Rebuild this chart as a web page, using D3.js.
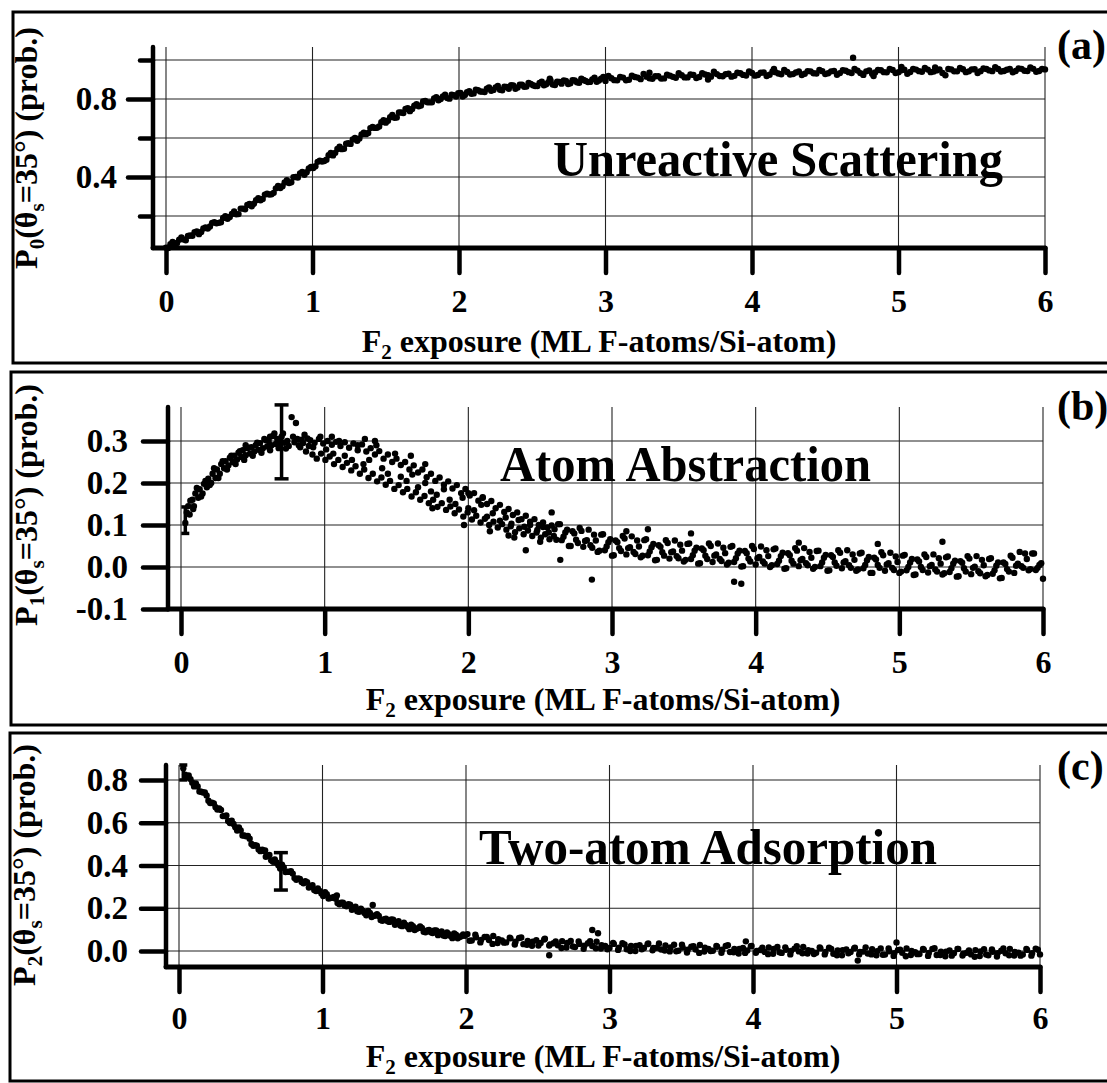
<!DOCTYPE html>
<html><head><meta charset="utf-8">
<script src="https://cdn.jsdelivr.net/npm/d3@7"></script>
<style>body{margin:0;background:#fff}svg{display:block}</style>
</head><body>
<svg id="chart" width="1107" height="1083"></svg>
<script>
// ---------------- DATA ----------------
const xTicks = [0, 1, 2, 3, 4, 5, 6];
const yGridA = [0.2, 0.4, 0.6, 0.8, 1.0];
const yMajorA = [0.4, 0.8];
const yMinorA = [0.2, 0.6, 1.0];
const yGridB = [0.0, 0.1, 0.2, 0.3];
const yMajorB = [-0.1, 0.0, 0.1, 0.2, 0.3];
const yGridC = [0.0, 0.2, 0.4, 0.6, 0.8];
const yMajorC = [0.0, 0.2, 0.4, 0.6, 0.8];
const panelTags = ["(a)", "(b)", "(c)"];
const panelNotes = ["Unreactive Scattering", "Atom Abstraction", "Two-atom Adsorption"];
const ySubs = ["0", "1", "2"];

// P0 : unreactive scattering  [exposure, probability]
const p0Points = [
[0.00,0.038],[0.03,0.055],[0.06,0.058],[0.09,0.078],[0.12,0.080],[0.15,0.098],[0.18,0.099],[0.21,0.121],[0.24,0.118],[0.27,0.142],
[0.30,0.146],[0.33,0.168],[0.36,0.165],[0.39,0.190],[0.42,0.186],[0.45,0.211],[0.48,0.209],[0.51,0.238],[0.54,0.235],[0.57,0.262],
[0.60,0.263],[0.63,0.291],[0.66,0.287],[0.69,0.314],[0.72,0.312],[0.75,0.342],[0.78,0.344],[0.81,0.372],[0.84,0.369],[0.87,0.399],
[0.90,0.398],[0.93,0.426],[0.96,0.425],[0.99,0.452],[1.02,0.455],[1.05,0.484],[1.08,0.482],[1.11,0.512],[1.14,0.511],[1.17,0.544],
[1.20,0.543],[1.23,0.571],[1.26,0.570],[1.29,0.601],[1.32,0.598],[1.35,0.627],[1.38,0.626],[1.41,0.657],[1.44,0.653],[1.47,0.681],
[1.50,0.679],[1.53,0.707],[1.56,0.704],[1.59,0.731],[1.62,0.728],[1.65,0.753],[1.68,0.749],[1.71,0.773],[1.74,0.767],[1.77,0.790],
[1.80,0.783],[1.83,0.803],[1.86,0.794],[1.89,0.813],[1.92,0.805],[1.95,0.822],[1.98,0.813],[2.01,0.831],[2.04,0.821],[2.07,0.840],
[2.10,0.829],[2.13,0.846],[2.16,0.838],[2.19,0.853],[2.22,0.842],[2.25,0.860],[2.28,0.848],[2.31,0.864],[2.34,0.853],[2.37,0.870],
[2.40,0.859],[2.43,0.874],[2.46,0.864],[2.49,0.878],[2.52,0.867],[2.55,0.882],[2.58,0.871],[2.61,0.886],[2.64,0.875],[2.67,0.889],
[2.70,0.879],[2.73,0.893],[2.76,0.881],[2.79,0.895],[2.82,0.884],[2.85,0.898],[2.88,0.887],[2.91,0.901],[2.94,0.889],[2.97,0.904],
[3.00,0.893],[3.04,0.907],[3.08,0.896],[3.12,0.910],[3.16,0.899],[3.20,0.913],[3.24,0.902],[3.28,0.915],[3.32,0.904],[3.36,0.917],
[3.40,0.906],[3.44,0.920],[3.48,0.909],[3.52,0.922],[3.56,0.911],[3.60,0.924],[3.64,0.913],[3.68,0.926],[3.72,0.915],[3.76,0.928],
[3.80,0.917],[3.84,0.930],[3.88,0.919],[3.92,0.932],[3.96,0.921],[4.00,0.934],[4.04,0.923],[4.08,0.936],[4.12,0.925],[4.16,0.938],
[4.20,0.927],[4.24,0.939],[4.28,0.928],[4.32,0.941],[4.36,0.930],[4.40,0.942],[4.44,0.931],[4.48,0.943],[4.52,0.932],[4.56,0.944],
[4.60,0.933],[4.64,0.945],[4.68,0.934],[4.72,0.946],[4.76,0.924],[4.80,0.947],[4.84,0.936],[4.88,0.948],[4.92,0.937],[4.96,0.949],
[5.00,0.938],[5.04,0.950],[5.08,0.939],[5.12,0.951],[5.16,0.940],[5.20,0.951],[5.24,0.941],[5.28,0.952],[5.32,0.922],[5.36,0.952],
[5.40,0.942],[5.44,0.953],[5.48,0.942],[5.52,0.953],[5.56,0.943],[5.60,0.954],[5.64,0.943],[5.68,0.954],[5.72,0.944],[5.76,0.954],
[5.80,0.944],[5.84,0.955],[5.88,0.944],[5.92,0.955],[5.96,0.944],[6.00,0.952],
[4.69,1.012],[3.30,0.935],[4.15,0.955],[5.25,0.962],[4.83,0.918],[3.70,0.900],[2.62,0.905],[5.02,0.965]
];
const p0PointsB = [
[0.015,0.036],[0.045,0.067],[0.075,0.062],[0.105,0.090],[0.135,0.076],[0.165,0.100],[0.195,0.117],[0.225,0.107],[0.255,0.136],[0.285,0.136],
[0.315,0.165],[0.345,0.163],[0.375,0.168],[0.405,0.199],[0.435,0.195],[0.465,0.223],[0.495,0.210],[0.525,0.238],[0.555,0.257],[0.585,0.250],
[0.615,0.281],[0.645,0.281],[0.675,0.310],[0.705,0.310],[0.735,0.319],[0.765,0.354],[0.795,0.353],[0.825,0.384],[0.855,0.373],[0.885,0.400],
[0.915,0.419],[0.945,0.412],[0.975,0.444],[1.005,0.446],[1.035,0.478],[1.065,0.480],[1.095,0.489],[1.125,0.524],[1.155,0.524],[1.185,0.556],
[1.215,0.545],[1.245,0.573],[1.275,0.593],[1.305,0.586],[1.335,0.618],[1.365,0.620],[1.395,0.651],[1.425,0.652],[1.455,0.659],[1.485,0.692],
[1.515,0.689],[1.545,0.718],[1.575,0.705],[1.605,0.731],[1.635,0.749],[1.665,0.738],[1.695,0.766],[1.725,0.763],[1.755,0.788],[1.785,0.783],
[1.815,0.783],[1.845,0.809],[1.875,0.800],[1.905,0.822],[1.935,0.802],[1.965,0.820],[1.995,0.830],[2.025,0.813],[2.055,0.835],[2.085,0.827],
[2.115,0.848],[2.145,0.839],[2.175,0.836],[2.205,0.859],[2.235,0.847],[2.265,0.867],[2.295,0.845],[2.325,0.862],[2.355,0.871],[2.385,0.853],
[2.415,0.873],[2.445,0.863],[2.475,0.882],[2.505,0.871],[2.535,0.867],[2.565,0.889],[2.595,0.876],[2.625,0.895],[2.655,0.872],[2.685,0.888],
[2.715,0.896],[2.745,0.877],[2.775,0.897],[2.805,0.886],[2.835,0.905],[2.865,0.893],[2.895,0.888],[2.925,0.909],[2.955,0.895],[2.985,0.913],
[3.02,0.918],[3.06,0.897],[3.10,0.913],[3.14,0.896],[3.18,0.920],[3.22,0.910],[3.26,0.929],[3.30,0.907],[3.34,0.917],[3.38,0.905],
[3.42,0.925],[3.46,0.914],[3.50,0.932],[3.54,0.911],[3.58,0.926],[3.62,0.908],[3.66,0.932],[3.70,0.922],[3.74,0.940],[3.78,0.918],
[3.82,0.927],[3.86,0.915],[3.90,0.935],[3.94,0.924],[3.98,0.942],[4.02,0.920],[4.06,0.935],[4.10,0.918],[4.14,0.941],[4.18,0.931],
[4.22,0.949],[4.26,0.926],[4.30,0.936],[4.34,0.923],[4.38,0.943],[4.42,0.932],[4.46,0.949],[4.50,0.928],[4.54,0.942],[4.58,0.925],
[4.62,0.948],[4.66,0.938],[4.70,0.955],[4.74,0.933],[4.78,0.942],[4.82,0.930],[4.86,0.949],[4.90,0.938],[4.94,0.955],[4.98,0.934],
[5.02,0.948],[5.06,0.930],[5.10,0.954],[5.14,0.943],[5.18,0.960],[5.22,0.938],[5.26,0.947],[5.30,0.934],[5.34,0.954],[5.38,0.942],
[5.42,0.959],[5.46,0.938],[5.50,0.952],[5.54,0.934],[5.58,0.957],[5.62,0.947],[5.66,0.964],[5.70,0.941],[5.74,0.950],[5.78,0.937],
[5.82,0.957],[5.86,0.945],[5.90,0.962],[5.94,0.940],[5.98,0.954]
];
const p0Err = [];

// P1 : atom abstraction
const p1Points = [
[0.03,0.105],[0.04,0.130],[0.05,0.145],[0.06,0.125],[0.08,0.160],[0.09,0.145],[0.10,0.175],[0.12,0.165],[0.13,0.185],[0.15,0.175],
[0.16,0.198],[0.18,0.190],[0.19,0.210],[0.21,0.200],[0.22,0.222],[0.24,0.212],[0.25,0.232],[0.27,0.222],[0.28,0.245],[0.30,0.235],
[0.31,0.252],[0.33,0.242],[0.34,0.260],[0.36,0.250],[0.37,0.265],[0.39,0.256],[0.40,0.272],[0.42,0.262],[0.43,0.278],[0.45,0.266],
[0.46,0.283],[0.48,0.270],[0.49,0.285],[0.51,0.275],[0.52,0.290],[0.54,0.279],[0.55,0.295],[0.57,0.283],[0.58,0.305],[0.60,0.287],
[0.61,0.300],[0.63,0.290],[0.64,0.312],[0.66,0.293],[0.67,0.305],[0.69,0.295],[0.70,0.310],[0.72,0.296],[0.73,0.282],[0.74,0.300],
[0.77,0.357],[0.80,0.343],[0.79,0.297],[0.81,0.305],[0.82,0.290],[0.84,0.303],[0.85,0.295],[0.87,0.275],[0.88,0.306],
[0.90,0.302],[0.93,0.296],[0.96,0.305],[0.99,0.294],[1.02,0.300],[1.05,0.291],[1.08,0.298],[1.11,0.288],[1.14,0.297],[1.17,0.284],
[1.20,0.294],[1.23,0.278],[1.26,0.292],[1.29,0.275],[1.32,0.283],[1.35,0.268],[1.38,0.276],[1.41,0.258],[1.44,0.268],[1.47,0.250],
[1.50,0.258],[1.53,0.243],[1.56,0.250],[1.59,0.232],[1.62,0.242],[1.65,0.225],[1.68,0.232],[1.71,0.214],[1.74,0.222],[1.77,0.205],
[1.80,0.213],[1.83,0.196],[1.86,0.204],[1.89,0.187],[1.92,0.195],[1.95,0.176],[1.98,0.186],[2.01,0.170],[2.04,0.176],[2.07,0.158],
[2.10,0.166],[2.13,0.150],[2.16,0.157],[2.19,0.140],[2.22,0.148],[2.25,0.131],[2.28,0.138],[2.31,0.124],[2.34,0.130],[2.37,0.114],
[2.40,0.122],[2.43,0.108],[2.46,0.114],[2.49,0.100],[2.52,0.106],[2.55,0.094],[2.58,0.099],
[0.915,0.268],[0.945,0.258],[0.975,0.270],[1.005,0.255],[1.035,0.263],[1.065,0.245],[1.095,0.255],[1.125,0.238],[1.155,0.248],[1.185,0.230],
[1.215,0.240],[1.245,0.222],[1.275,0.232],[1.305,0.212],[1.335,0.222],[1.365,0.204],[1.395,0.213],[1.425,0.196],[1.455,0.205],[1.485,0.186],
[1.515,0.195],[1.545,0.178],[1.575,0.186],[1.605,0.168],[1.635,0.178],[1.665,0.160],[1.695,0.169],[1.725,0.152],[1.755,0.160],[1.785,0.143],
[1.815,0.152],[1.845,0.136],[1.875,0.144],[1.905,0.128],[1.935,0.137],[1.965,0.120],[1.995,0.130],[2.025,0.113],[2.055,0.122],[2.085,0.106],
[2.115,0.115],[2.145,0.100],[2.175,0.108],[2.205,0.094],[2.235,0.102],[2.265,0.089],[2.295,0.097],[2.325,0.083],[2.355,0.092],[2.385,0.078],
[2.415,0.087],[2.445,0.074],[2.475,0.082],[2.505,0.070],[2.535,0.078],[2.565,0.066],[2.595,0.074],
[1.05,0.310],[1.28,0.305],[1.35,0.300],[2.00,0.176],[2.10,0.165],[2.40,0.040],[2.64,0.017],[2.58,0.130],[1.60,0.265],[1.70,0.245],
[2.625,0.102],[2.650,0.064],[2.675,0.082],[2.700,0.050],[2.725,0.085],[2.750,0.065],[2.775,0.093],[2.800,0.048],[2.825,0.064],[2.850,0.052],
[2.875,0.077],[2.900,0.036],[2.925,0.077],[2.950,0.040],[2.975,0.059],[3.000,0.027],[3.025,0.063],[3.050,0.045],[3.075,0.074],[3.100,0.030],
[3.125,0.047],[3.150,0.036],[3.175,0.063],[3.200,0.023],[3.225,0.064],[3.250,0.028],[3.275,0.047],[3.300,0.016],[3.325,0.052],[3.350,0.035],
[3.375,0.064],[3.400,0.020],[3.425,0.037],[3.450,0.026],[3.475,0.053],[3.500,0.013],[3.525,0.055],[3.550,0.019],[3.575,0.039],[3.600,0.008],
[3.625,0.044],[3.650,0.027],[3.675,0.056],[3.700,0.012],[3.725,0.030],[3.750,0.019],[3.775,0.046],[3.800,0.006],[3.825,0.048],[3.850,0.012],
[3.875,0.032],[3.900,0.001],[3.925,0.038],[3.950,0.020],[3.975,0.050],[4.000,0.006],[4.025,0.024],[4.050,0.013],[4.075,0.040],[4.100,0.000],
[4.125,0.042],[4.150,0.007],[4.175,0.026],[4.200,-0.004],[4.225,0.033],[4.250,0.015],[4.275,0.045],[4.300,0.002],[4.325,0.019],[4.350,0.009],
[4.375,0.036],[4.400,-0.004],[4.425,0.038],[4.450,0.002],[4.475,0.022],[4.500,-0.009],[4.525,0.028],[4.550,0.011],[4.575,0.040],[4.600,-0.003],
[4.625,0.014],[4.650,0.004],[4.675,0.030],[4.700,-0.009],[4.725,0.032],[4.750,-0.003],[4.775,0.016],[4.800,-0.014],[4.825,0.022],[4.850,0.005],
[4.875,0.035],[4.900,-0.009],[4.925,0.009],[4.950,-0.002],[4.975,0.025],[5.000,-0.014],[5.025,0.027],[5.050,-0.008],[5.075,0.011],[5.100,-0.019],
[5.125,0.018],[5.150,0.000],[5.175,0.030],[5.200,-0.013],[5.225,0.005],[5.250,-0.006],[5.275,0.021],[5.300,-0.018],[5.325,0.023],[5.350,-0.012],
[5.375,0.008],[5.400,-0.023],[5.425,0.014],[5.450,-0.003],[5.475,0.026],[5.500,-0.017],[5.525,0.001],[5.550,-0.010],[5.575,0.017],[5.600,-0.022],
[5.625,0.019],[5.650,-0.016],[5.675,0.003],[5.700,-0.027],[5.725,0.011],[5.750,-0.005],[5.775,0.027],[5.800,-0.014],[5.825,0.008],[5.850,0.002],
[5.875,0.032],[5.900,-0.008],[5.925,0.032],[5.950,-0.007],[5.975,0.005],[6.000,-0.028],
[3.25,0.090],[2.86,-0.030],[3.90,-0.040],[5.30,0.060],[3.85,-0.035],[4.85,0.055],[3.10,0.085],[3.55,0.080],[4.30,0.058]
];
const p1PointsB = [
[0.065,0.158],[0.085,0.138],[0.11,0.188],[0.14,0.168],[0.17,0.205],[0.20,0.195],[0.23,0.235],[0.26,0.212],[0.29,0.252],[0.32,0.232],
[0.35,0.265],[0.38,0.245],[0.41,0.276],[0.44,0.255],[0.47,0.284],[0.50,0.265],[0.53,0.296],[0.56,0.272],[0.59,0.302],[0.62,0.278],
[0.65,0.318],[0.68,0.283],[0.71,0.318],[0.75,0.288],[0.78,0.310],[0.83,0.285],[0.86,0.315],[0.89,0.288],[0.62,0.310],[0.45,0.290],
[0.92,0.285],[0.97,0.310],[1.01,0.280],[1.06,0.270],[1.10,0.300],[1.14,0.265],[1.19,0.255],[1.23,0.290],[1.27,0.245],[1.31,0.255],
[1.36,0.290],[1.40,0.235],[1.44,0.222],[1.49,0.270],[1.53,0.215],[1.57,0.205],[1.61,0.220],[1.65,0.190],[1.70,0.200],[1.74,0.180],
[1.78,0.172],[1.83,0.185],[1.87,0.160],[1.91,0.150],[1.96,0.165],[2.00,0.140],[2.04,0.135],[2.09,0.148],[2.13,0.120],[2.17,0.128],
[2.22,0.110],[2.26,0.118],[2.30,0.103],[2.35,0.112],[2.39,0.096],[2.43,0.100],[2.48,0.088],[2.52,0.095],[2.56,0.082],[2.60,0.090],
[1.97,0.100],[2.15,0.085],[2.32,0.070],[2.50,0.060],[1.75,0.140],[2.28,0.075],
[2.6125,0.065],[2.6375,0.102],[2.6625,0.072],[2.6875,0.089],[2.7125,0.050],[2.7375,0.080],[2.7625,0.057],[2.7875,0.086],[2.8125,0.062],[2.8375,0.089],
[2.8625,0.046],[2.8875,0.063],[2.9125,0.039],[2.9375,0.078],[2.9625,0.049],[2.9875,0.066],[3.0125,0.028],[3.0375,0.059],[3.0625,0.038],[3.0875,0.068],
[3.1125,0.045],[3.1375,0.073],[3.1625,0.031],[3.1875,0.049],[3.2125,0.027],[3.2375,0.066],[3.2625,0.037],[3.2875,0.055],[3.3125,0.017],[3.3375,0.048],
[3.3625,0.027],[3.3875,0.057],[3.4125,0.035],[3.4375,0.063],[3.4625,0.021],[3.4875,0.039],[3.5125,0.017],[3.5375,0.056],[3.5625,0.028],[3.5875,0.046],
[3.6125,0.009],[3.6375,0.040],[3.6625,0.019],[3.6875,0.050],[3.7125,0.027],[3.7375,0.056],[3.7625,0.014],[3.7875,0.033],[3.8125,0.010],[3.8375,0.050],
[3.8625,0.021],[3.8875,0.039],[3.9125,0.002],[3.9375,0.033],[3.9625,0.013],[3.9875,0.043],[4.0125,0.021],[4.0375,0.049],[4.0625,0.008],[4.0875,0.026],
[4.1125,0.004],[4.1375,0.044],[4.1625,0.015],[4.1875,0.034],[4.2125,-0.003],[4.2375,0.028],[4.2625,0.008],[4.2875,0.039],[4.3125,0.016],[4.3375,0.045],
[4.3625,0.004],[4.3875,0.022],[4.4125,0.000],[4.4375,0.039],[4.4625,0.011],[4.4875,0.029],[4.5125,-0.008],[4.5375,0.024],[4.5625,0.003],[4.5875,0.034],
[4.6125,0.011],[4.6375,0.040],[4.6625,-0.002],[4.6875,0.017],[4.7125,-0.006],[4.7375,0.034],[4.7625,0.005],[4.7875,0.024],[4.8125,-0.014],[4.8375,0.018],
[4.8625,-0.002],[4.8875,0.028],[4.9125,0.006],[4.9375,0.034],[4.9625,-0.007],[4.9875,0.012],[5.0125,-0.011],[5.0375,0.029],[5.0625,0.000],[5.0875,0.019],
[5.1125,-0.018],[5.1375,0.013],[5.1625,-0.007],[5.1875,0.024],[5.2125,0.002],[5.2375,0.030],[5.2625,-0.011],[5.2875,0.008],[5.3125,-0.015],[5.3375,0.025],
[5.3625,-0.003],[5.3875,0.015],[5.4125,-0.022],[5.4375,0.010],[5.4625,-0.011],[5.4875,0.020],[5.5125,-0.002],[5.5375,0.026],[5.5625,-0.015],[5.5875,0.004],
[5.6125,-0.019],[5.6375,0.021],[5.6625,-0.008],[5.6875,0.011],[5.7125,-0.026],[5.7375,0.007],[5.7625,-0.011],[5.7875,0.022],[5.8125,0.003],[5.8375,0.036],
[5.8625,-0.002],[5.8875,0.019],[5.9125,-0.005],[5.9375,0.032],[5.9625,-0.002],[5.9875,0.009]
];
const p1Err = [[0.03, 0.080, 0.143], [0.70, 0.210, 0.386]];

// P2 : two-atom adsorption
const p2Points = [
[0.030,0.855],[0.055,0.813],[0.080,0.804],[0.105,0.770],[0.130,0.770],[0.155,0.745],[0.180,0.741],[0.205,0.703],[0.230,0.694],[0.255,0.672],
[0.280,0.667],[0.305,0.631],[0.330,0.634],[0.355,0.599],[0.380,0.594],[0.405,0.563],[0.430,0.564],[0.455,0.540],[0.480,0.538],[0.505,0.501],
[0.530,0.495],[0.555,0.475],[0.580,0.474],[0.605,0.441],[0.630,0.449],[0.655,0.417],[0.680,0.414],[0.705,0.386],[0.730,0.391],[0.755,0.371],
[0.780,0.373],[0.805,0.341],[0.830,0.339],[0.855,0.323],[0.880,0.326],[0.905,0.297],[0.930,0.308],[0.955,0.280],[0.980,0.281],[1.005,0.257],
[1.030,0.265],[1.055,0.248],[1.080,0.253],[1.105,0.224],[1.130,0.226],[1.155,0.213],[1.180,0.219],[1.205,0.193],[1.230,0.207],[1.255,0.183],
[1.280,0.188],[1.305,0.167],[1.330,0.178],[1.355,0.164],[1.380,0.172],[1.405,0.145],[1.430,0.149],[1.455,0.139],[1.480,0.147],[1.505,0.123],
[1.530,0.139],[1.555,0.116],[1.580,0.122],[1.605,0.102],[1.630,0.116],[1.655,0.104],[1.680,0.115],[1.705,0.090],[1.730,0.096],[1.755,0.087],
[1.780,0.096],[1.805,0.074],[1.830,0.091],[1.855,0.070],[1.880,0.078],[1.905,0.060],[1.930,0.076],[1.955,0.065],[1.980,0.077],
[2.01,0.079],[2.04,0.049],[2.07,0.064],[2.10,0.040],[2.13,0.065],[2.16,0.051],[2.19,0.070],[2.22,0.037],[2.25,0.049],[2.28,0.040],
[2.31,0.059],[2.34,0.030],[2.37,0.061],[2.40,0.032],[2.43,0.047],[2.46,0.024],[2.49,0.050],[2.52,0.037],[2.55,0.057],[2.58,0.025],
[2.61,0.036],[2.64,0.027],[2.67,0.046],[2.70,0.016],[2.73,0.047],[2.76,0.018],[2.79,0.033],[2.82,0.010],[2.85,0.036],[2.88,0.023],
[2.91,0.043],[2.94,0.011],[2.97,0.023],[3.00,0.014],[3.03,0.033],[3.06,0.005],[3.09,0.036],[3.12,0.008],[3.15,0.023],[3.18,0.000],
[3.21,0.027],[3.24,0.014],[3.27,0.035],[3.30,0.003],[3.33,0.015],[3.36,0.007],[3.39,0.026],[3.42,-0.002],[3.45,0.029],[3.48,0.001],
[3.51,0.016],[3.54,-0.007],[3.57,0.020],[3.60,0.007],[3.63,0.028],[3.66,-0.003],[3.69,0.009],[3.72,0.001],[3.75,0.020],[3.78,-0.008],
[3.81,0.023],[3.84,-0.005],[3.87,0.010],[3.90,-0.012],[3.93,0.014],[3.96,0.002],[3.99,0.023],[4.02,-0.008],[4.05,0.004],[4.08,-0.004],
[4.11,0.016],[4.14,-0.013],[4.17,0.019],[4.20,-0.009],[4.23,0.006],[4.26,-0.016],[4.29,0.011],[4.32,-0.002],[4.35,0.019],[4.38,-0.012],
[4.41,0.000],[4.44,-0.008],[4.47,0.012],[4.50,-0.016],[4.53,0.015],[4.56,-0.013],[4.59,0.003],[4.62,-0.020],[4.65,0.007],[4.68,-0.005],
[4.71,0.015],[4.74,-0.016],[4.77,-0.003],[4.80,-0.012],[4.83,0.008],[4.86,-0.020],[4.89,0.012],[4.92,-0.017],[4.95,-0.001],[4.98,-0.023],
[5.01,0.004],[5.04,-0.008],[5.07,0.012],[5.10,-0.019],[5.13,-0.006],[5.16,-0.014],[5.19,0.006],[5.22,-0.023],[5.25,0.009],[5.28,-0.019],
[5.31,-0.003],[5.34,-0.025],[5.37,0.002],[5.40,-0.011],[5.43,0.010],[5.46,-0.021],[5.49,-0.008],[5.52,-0.016],[5.55,0.004],[5.58,-0.024],
[5.61,0.008],[5.64,-0.020],[5.67,-0.004],[5.70,-0.026],[5.73,0.001],[5.76,-0.011],[5.79,0.010],[5.82,-0.021],[5.85,-0.008],[5.88,-0.016],
[5.91,0.005],[5.94,-0.022],[5.97,0.011],[6.00,-0.016],
[1.35,0.215],[2.88,0.098],[2.92,0.083],[2.58,-0.020],[4.73,-0.045],[5.00,0.040],[3.95,0.045],[1.10,0.260],[0.60,0.470]
];
const p2PointsB = [
[0.0425,0.825],[0.0675,0.821],[0.0925,0.787],[0.1175,0.784],[0.1425,0.746],[0.1675,0.741],[0.1925,0.727],[0.2175,0.692],[0.2425,0.690],[0.2675,0.662],
[0.2925,0.660],[0.3175,0.631],[0.3425,0.608],[0.3675,0.609],[0.3925,0.579],[0.4175,0.578],[0.4425,0.540],[0.4675,0.537],[0.4925,0.525],[0.5175,0.492],
[0.5425,0.492],[0.5675,0.467],[0.5925,0.468],[0.6175,0.444],[0.6425,0.424],[0.6675,0.428],[0.6925,0.401],[0.7175,0.403],[0.7425,0.369],[0.7675,0.370],
[0.7925,0.362],[0.8175,0.333],[0.8425,0.337],[0.8675,0.317],[0.8925,0.322],[0.9175,0.301],[0.9425,0.285],[0.9675,0.293],[0.9925,0.269],[1.0175,0.275],
[1.0425,0.245],[1.0675,0.249],[1.0925,0.244],[1.1175,0.218],[1.1425,0.226],[1.1675,0.209],[1.1925,0.217],[1.2175,0.199],[1.2425,0.186],[1.2675,0.198],
[1.2925,0.178],[1.3175,0.187],[1.3425,0.159],[1.3675,0.166],[1.3925,0.164],[1.4175,0.141],[1.4425,0.151],[1.4675,0.136],[1.4925,0.146],[1.5175,0.130],
[1.5425,0.119],[1.5675,0.132],[1.5925,0.113],[1.6175,0.123],[1.6425,0.098],[1.6675,0.107],[1.6925,0.108],[1.7175,0.087],[1.7425,0.098],[1.7675,0.084],
[1.7925,0.096],[1.8175,0.081],[1.8425,0.072],[1.8675,0.087],[1.8925,0.070],[1.9175,0.082],[1.9425,0.059],[1.9675,0.069],[1.9925,0.071],
[2.025,0.048],[2.065,0.076],[2.105,0.052],[2.145,0.065],[2.185,0.033],[2.225,0.055],[2.265,0.039],[2.305,0.062],[2.345,0.043],[2.385,0.063],
[2.425,0.029],[2.465,0.043],[2.505,0.025],[2.545,0.054],[2.585,0.031],[2.625,0.045],[2.665,0.014],[2.705,0.037],[2.745,0.021],[2.785,0.044],
[2.825,0.025],[2.865,0.046],[2.905,0.013],[2.945,0.027],[2.985,0.008],[3.025,0.038],[3.065,0.015],[3.105,0.030],[3.145,0.000],[3.185,0.024],
[3.225,0.008],[3.265,0.032],[3.305,0.014],[3.345,0.035],[3.385,0.002],[3.425,0.016],[3.465,-0.001],[3.505,0.029],[3.545,0.006],[3.585,0.022],
[3.625,-0.009],[3.665,0.015],[3.705,0.000],[3.745,0.023],[3.785,0.006],[3.825,0.027],[3.865,-0.006],[3.905,0.009],[3.945,-0.009],[3.985,0.022],
[4.025,0.000],[4.065,0.015],[4.105,-0.015],[4.145,0.009],[4.185,-0.006],[4.225,0.017],[4.265,0.000],[4.305,0.022],[4.345,-0.011],[4.385,0.004],
[4.425,-0.014],[4.465,0.017],[4.505,-0.005],[4.545,0.010],[4.585,-0.020],[4.625,0.004],[4.665,-0.011],[4.705,0.012],[4.745,-0.005],[4.785,0.017],
[4.825,-0.016],[4.865,-0.001],[4.905,-0.018],[4.945,0.012],[4.985,-0.010],[5.025,0.006],[5.065,-0.025],[5.105,0.000],[5.145,-0.015],[5.185,0.009],
[5.225,-0.009],[5.265,0.013],[5.305,-0.019],[5.345,-0.004],[5.385,-0.022],[5.425,0.009],[5.465,-0.013],[5.505,0.003],[5.545,-0.027],[5.585,-0.002],
[5.625,-0.017],[5.665,0.007],[5.705,-0.010],[5.745,0.012],[5.785,-0.020],[5.825,-0.005],[5.865,-0.022],[5.905,0.010],[5.945,-0.011],[5.985,0.006]
];
const p2Err = [[0.03, 0.800, 0.870], [0.71, 0.285, 0.460]];

// ---------------- LAYOUT ----------------
const FONT = '"Liberation Serif","Times New Roman",Times,serif';
const layouts = [
  {frame:[13,12,363], xr:[166,1045], yd:[0.036,1.067], yr:[248,47], ax:153,
   tickLab:312, yLabEnd:117, titleX:599, titleY:352, ylabX:37, ylabY:148, tagY:59,
   note:[553,176,450]},
  {frame:[11,372,725], xr:[181,1043], yd:[-0.1,0.381], yr:[609,407], ax:168,
   tickLab:673, yLabEnd:128, titleX:603, titleY:710, ylabX:37, ylabY:505, tagY:420,
   note:[500,481,371]},
  {frame:[10,733,1081], xr:[179,1040], yd:[-0.075,0.87], yr:[967,765], ax:166,
   tickLab:1029, yLabEnd:128, titleX:603, titleY:1067, ylabX:35, ylabY:865, tagY:780,
   note:[479,864,458]}
];
const panelData = [
  {pts:p0Points.concat(p0PointsB), err:p0Err, grid:yGridA, major:yMajorA, minor:yMinorA},
  {pts:p1Points.concat(p1PointsB), err:p1Err, grid:yGridB, major:yMajorB, minor:[]},
  {pts:p2Points.concat(p2PointsB), err:p2Err, grid:yGridC, major:yMajorC, minor:[]}
];

const svg = d3.select("#chart");
svg.append("rect").attr("width",1107).attr("height",1083).attr("fill","#fff");

panelData.forEach((pd, i) => {
  const L = layouts[i];
  const g = svg.append("g");
  const x = d3.scaleLinear().domain([0,6]).range(L.xr);
  const y = d3.scaleLinear().domain(L.yd).range(L.yr);
  const xEnd = x(6);

  g.append("rect").attr("x",L.frame[0]).attr("y",L.frame[1])
    .attr("width",1200).attr("height",L.frame[2]-L.frame[1])
    .attr("fill","none").attr("stroke","#000").attr("stroke-width",3);

  g.append("g").selectAll("line").data(xTicks).join("line")
    .attr("x1",d=>x(d)).attr("x2",d=>x(d)).attr("y1",L.yr[1]).attr("y2",L.yr[0])
    .attr("stroke","#222").attr("stroke-width",1.1);
  g.append("g").selectAll("line").data(pd.grid).join("line")
    .attr("x1",L.ax).attr("x2",xEnd).attr("y1",d=>y(d)).attr("y2",d=>y(d))
    .attr("stroke","#222").attr("stroke-width",1.1);

  g.append("text").attr("x",L.note[0]).attr("y",L.note[1])
    .attr("textLength",L.note[2]).attr("lengthAdjust","spacingAndGlyphs")
    .attr("font-family",FONT).attr("font-weight","bold").attr("font-size",50)
    .attr("fill","#000").text(panelNotes[i]);

  g.append("g").selectAll("circle").data(pd.pts).join("circle")
    .attr("cx",d=>x(d[0])).attr("cy",d=>y(d[1])).attr("r",3.2).attr("fill","#000");

  const eb = g.append("g").attr("stroke","#000").attr("stroke-width",3.5);
  pd.err.forEach(e => {
    const hw = e[0] < 0.2 ? 4 : 7;
    eb.append("line").attr("x1",x(e[0])).attr("x2",x(e[0])).attr("y1",y(e[1])).attr("y2",y(e[2]));
    eb.append("line").attr("x1",x(e[0])-hw).attr("x2",x(e[0])+hw).attr("y1",y(e[1])).attr("y2",y(e[1]));
    eb.append("line").attr("x1",x(e[0])-hw).attr("x2",x(e[0])+hw).attr("y1",y(e[2])).attr("y2",y(e[2]));
  });

  g.append("line").attr("x1",L.ax).attr("x2",L.ax).attr("y1",L.yr[1]).attr("y2",L.yr[0])
    .attr("stroke","#000").attr("stroke-width",4.5).attr("stroke-linecap","round");
  g.append("line").attr("x1",L.ax).attr("x2",xEnd).attr("y1",L.yr[0]).attr("y2",L.yr[0])
    .attr("stroke","#000").attr("stroke-width",5).attr("stroke-linecap","round");

  const xa = g.append("g").attr("transform",`translate(0,${L.yr[0]})`)
    .call(d3.axisBottom(x).tickValues(xTicks).tickSize(25).tickFormat(d3.format("d")));
  xa.select(".domain").remove();
  xa.selectAll("line").attr("stroke","#000").attr("stroke-width",4.5).attr("stroke-linecap","round");
  xa.attr("font-family",FONT).attr("font-size",32).attr("font-weight","bold");
  xa.selectAll("text").attr("y",L.tickLab - L.yr[0]).attr("dy",null).attr("fill","#000");

  const ya = g.append("g").attr("transform",`translate(${L.ax},0)`)
    .call(d3.axisLeft(y).tickValues(pd.major).tickSize(25).tickPadding(L.ax-25-L.yLabEnd)
      .tickFormat(d=>d.toFixed(1)));
  ya.select(".domain").remove();
  ya.selectAll("line").attr("stroke","#000").attr("stroke-width",4.5).attr("stroke-linecap","round");
  ya.attr("font-family",FONT).attr("font-size",33).attr("font-weight","bold");
  ya.selectAll("text").attr("fill","#000");
  if (pd.minor.length) {
    const ym = g.append("g").attr("transform",`translate(${L.ax},0)`)
      .call(d3.axisLeft(y).tickValues(pd.minor).tickSize(13).tickFormat(""));
    ym.select(".domain").remove();
    ym.selectAll("line").attr("stroke","#000").attr("stroke-width",4.5).attr("stroke-linecap","round");
  }

  const xt = g.append("text").attr("x",L.titleX).attr("y",L.titleY).attr("text-anchor","middle")
    .attr("font-family",FONT).attr("font-weight","bold").attr("font-size",32).attr("fill","#000");
  xt.append("tspan").text("F");
  xt.append("tspan").attr("font-size",21).attr("dy",7).text("2");
  xt.append("tspan").attr("dy",-7).text(" exposure (ML F-atoms/Si-atom)");

  const yt = g.append("text").attr("transform",`translate(${L.ylabX},${L.ylabY}) rotate(-90)`)
    .attr("text-anchor","middle").attr("font-family",FONT).attr("font-weight","bold")
    .attr("font-size",32).attr("fill","#000");
  yt.append("tspan").text("P");
  yt.append("tspan").attr("font-size",21).attr("dy",7).text(ySubs[i]);
  yt.append("tspan").attr("dy",-7).text("(\u03B8");
  yt.append("tspan").attr("font-size",21).attr("dy",7).text("s");
  yt.append("tspan").attr("dy",-7).text("=35\u00B0) (prob.)");

  g.append("text").attr("x",1057).attr("y",L.tagY).attr("font-family",FONT)
    .attr("font-weight","bold").attr("font-size",42).attr("fill","#000").text(panelTags[i]);
});
</script>
</body></html>
